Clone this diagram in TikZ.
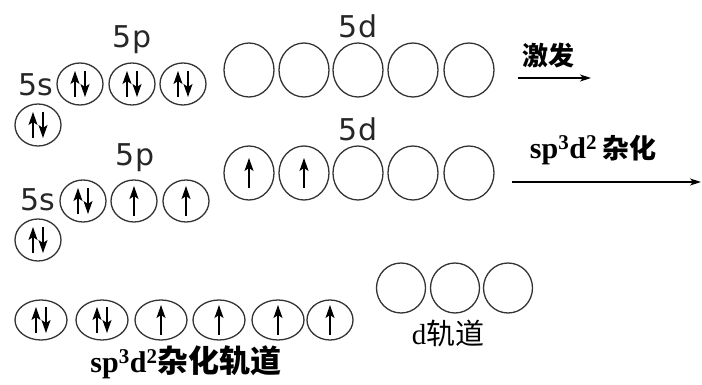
\documentclass[tikz,border=0pt]{standalone}
\usepackage{fontspec}
\setmainfont{Liberation Serif}
\setsansfont{DejaVu Sans}
\newfontfamily\cjk{Noto Sans CJK SC}
\usetikzlibrary{shapes.geometric,arrows.meta}
\newcommand\eup[1]{\draw[elec] ([yshift=-15pt]#1.center) -- ([yshift=15pt]#1.center);}
\newcommand\epair[1]{\draw[elec] ([xshift=-5pt,yshift=-13pt]#1.center) -- ([xshift=-5pt,yshift=13pt]#1.center);
  \draw[elec] ([xshift=5pt,yshift=13pt]#1.center) -- ([xshift=5pt,yshift=-13pt]#1.center);}
\begin{document}
\begin{tikzpicture}[x=1pt,y=-1pt,
 orb/.style={ellipse,draw=black!80,line width=1.3pt,inner sep=0pt,minimum width=46pt,minimum height=42pt},
 dorb/.style={orb,minimum width=50pt,minimum height=54pt},
 horb/.style={orb,minimum width=52pt,minimum height=40pt},
 lab/.style={font=\sffamily\fontsize{30}{30}\selectfont,inner sep=0pt,text=black!85},
 elec/.style={line width=1.5pt,-{Stealth[length=13pt,width=9pt,inset=3pt]}},
 rxn/.style={line width=1.1pt,-{Stealth[length=11pt,width=7pt,inset=3pt]}},
 cn/.style={inner sep=0pt}
]
\path[use as bounding box] (0,0) rectangle (702,385);

% ---------- row 1 ----------
\node[lab] (l5s1) at (36,85) {5s};
\node[lab] (l5p1) at (132,40) {5p};
\node[lab] (l5d1) at (358,26) {5d};
\node[orb] (s1) at (38,125) {};
\node[orb] (p1a) at (80,84) {};
\node[orb] (p1b) at (132,84) {};
\node[orb] (p1c) at (183,84) {};
\epair{s1}\epair{p1a}\epair{p1b}\epair{p1c}
\foreach \x [count=\i] in {249,304,358,413,469}
  \node[dorb] (d1\i) at (\x,70) {};

\node[cn,font=\cjk\bfseries\fontsize{26}{26}\selectfont] (jf) at (548,56) {激发};
\coordinate (a1s) at (518,78);
\coordinate (a1e) at (591,78);
\draw[rxn] (a1s) -- (a1e);

% ---------- row 2 ----------
\node[lab] (l5s2) at (38,200) {5s};
\node[lab] (l5p2) at (135,158) {5p};
\node[lab] (l5d2) at (358,129) {5d};
\node[orb] (s2) at (38,240) {};
\node[orb] (p2a) at (83,201) {};
\node[orb] (p2b) at (134,201) {};
\node[orb] (p2c) at (186,201) {};
\epair{s2}\epair{p2a}\eup{p2b}\eup{p2c}
\foreach \x [count=\i] in {249,304,358,413,469}
  \node[dorb] (d2\i) at (\x,173) {};
\eup{d21}\eup{d22}

\node[cn] (hyb) at (593,150) {\fontsize{30}{30}\selectfont\bfseries sp\textsuperscript{3}d\textsuperscript{2}\,\cjk\fontsize{27}{27}\selectfont 杂化};
\coordinate (a2s) at (512,182);
\coordinate (a2e) at (701,182);
\draw[rxn] (a2s) -- (a2e);

% ---------- row 3 ----------
\foreach \x [count=\i] in {41,102,161,219,278}
  \node[horb] (h\i) at (\x,320) {};
\node[horb,minimum width=46pt] (h6) at (330,320) {};
\epair{h1}\epair{h2}\eup{h3}\eup{h4}\eup{h5}\eup{h6}

\node[cn] (hlab) at (186,362) {\fontsize{30}{30}\selectfont\bfseries sp\textsuperscript{3}d\textsuperscript{2}\cjk\fontsize{31}{31}\selectfont 杂化轨道};

\foreach \x [count=\i] in {401,455,508}
  \node[orb,minimum width=49pt,minimum height=50pt] (dd\i) at (\x,288) {};
\node[cn] (dlab) at (448,333) {\fontsize{29}{29}\selectfont d\cjk\fontsize{29}{29}\selectfont 轨道};
\end{tikzpicture}
\end{document}
